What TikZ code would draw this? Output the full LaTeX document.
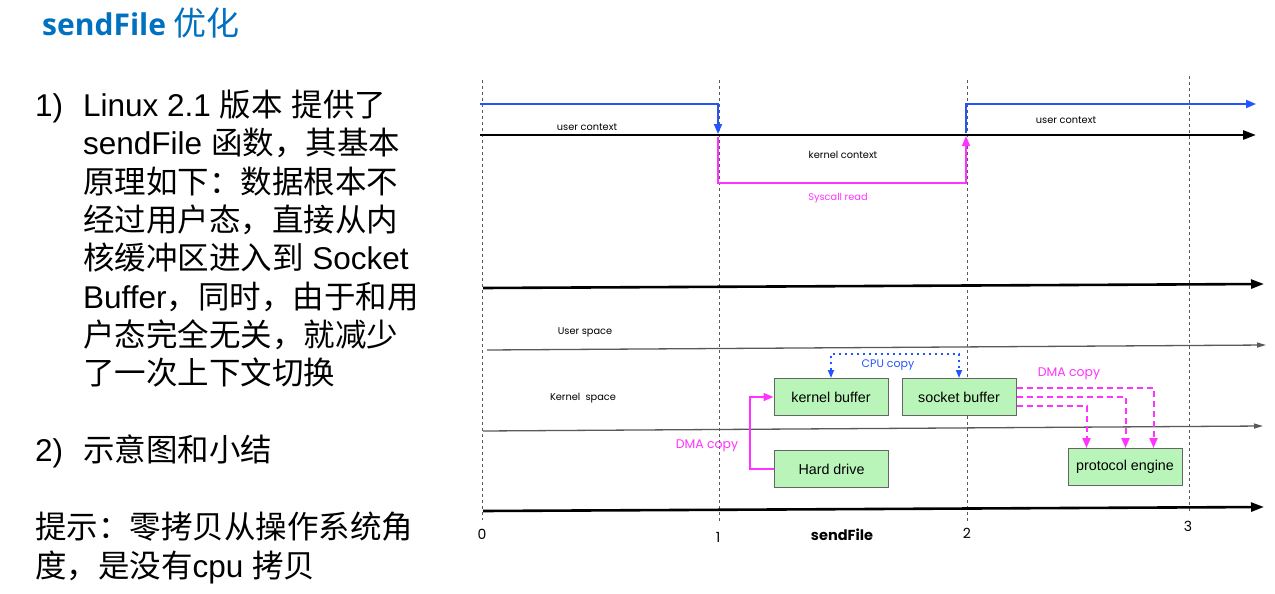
\documentclass[tikz,border=0pt]{standalone}
\usepackage{fontspec}
\setmainfont{Liberation Sans}
\newfontfamily\cjk{Noto Sans CJK SC}
\newfontfamily\geo{Poppins}
\newfontfamily\ttl{Open Sans}
\usetikzlibrary{arrows.meta}
\definecolor{ttlblue}{HTML}{0070C0}
\definecolor{flowblue}{HTML}{2255FF}
\definecolor{mag}{HTML}{FF33FF}
\definecolor{boxgreen}{HTML}{B9F5B9}
\begin{document}
\begin{tikzpicture}[x=1pt,y=-1pt,
  bodytext/.style={anchor=base west, inner sep=0pt, font=\fontsize{31.5}{36}\selectfont},
  small/.style={inner sep=0pt, font=\geo\fontsize{9.8}{11}\selectfont},
  num/.style={inner sep=0pt, font=\geo\fontsize{14}{16}\selectfont},
  copylbl/.style={inner sep=0pt, font=\geo\fontsize{12.5}{14}\selectfont},
  vline/.style={dash pattern=on 3pt off 3pt, line width=0.9pt, black!65},
  axis/.style={line width=2.6pt, -{Triangle[length=13pt,width=9pt]}},
  space/.style={line width=1.3pt, black!65, -{Triangle[length=9pt,width=5pt]}},
  flow/.style={line width=1.8pt, flowblue},
  sys/.style={line width=1.5pt, mag},
  cpu/.style={line width=1.6pt, flowblue, dash pattern=on 2pt off 4pt},
  dma/.style={line width=2pt, mag, dash pattern=on 6pt off 4pt},
  buf/.style={draw=black!60, line width=1pt, fill=boxgreen, minimum width=114pt,
    minimum height=37pt, inner sep=0pt, font=\fontsize{14.3}{16}\selectfont},
  tip/.style={-{Triangle[length=10pt,width=8pt]}}
]
\useasboundingbox (0,0) rectangle (1275,594);

% heading
\node[anchor=base west, inner sep=0pt, text=ttlblue] (title) at (42,36)
  {\ttl\bfseries\fontsize{30}{34}\selectfont sendFile {\cjk\mdseries\fontsize{33}{36}\selectfont 优化}};

% explanation on the left
\node[bodytext] (n1) at (35,116) {1)};
\node[bodytext] (l1) at (83,116) {Linux 2.1 {\cjk 版本} {\cjk 提供了}};
\node[bodytext] (l2) at (83,154) {sendFile {\cjk 函数，其基本}};
\node[bodytext] (l3) at (83,193) {\cjk 原理如下：数据根本不};
\node[bodytext] (l4) at (83,231) {\cjk 经过用户态，直接从内};
\node[bodytext] (l5) at (83,269) {{\cjk 核缓冲区进入到} Socket};
\node[bodytext] (l6) at (83,308) {Buffer{\cjk ，同时，由于和用}};
\node[bodytext] (l7) at (83,346) {\cjk 户态完全无关，就减少};
\node[bodytext] (l8) at (83,384) {\cjk 了一次上下文切换};
\node[bodytext] (n2) at (35,461) {2)};
\node[bodytext] (l9) at (83,461) {\cjk 示意图和小结};
\node[bodytext] (l10) at (35,538) {\cjk 提示：零拷贝从操作系统角};
\node[bodytext] (l11) at (35,577) {{\cjk 度，是没有}cpu {\cjk 拷贝}};

% time marks
\draw[vline] (482,80) -- (482,520);
\draw[vline] (719,80) -- (719,522);
\draw[vline] (967,80) -- (967,522);
\draw[vline] (1189,76) -- (1189,514);

% timelines
\coordinate (c0) at (480,135);  \coordinate (c1) at (1256,135);
\coordinate (u0) at (483,288);  \coordinate (u1) at (1264,284);
\coordinate (s0) at (487,350);  \coordinate (s1) at (1266,345);
\coordinate (k0) at (483,431);  \coordinate (k1) at (1263,426);
\coordinate (b0) at (483,511);  \coordinate (b1) at (1264,507);
\draw[axis] (c0) -- (c1);
\draw[axis] (u0) -- (u1);
\draw[space] (s0) -- (s1);
\draw[space] (k0) -- (k1);
\draw[axis] (b0) -- (b1);

% context switches
\coordinate (f0) at (480,104);
\coordinate (f1) at (718,104);
\coordinate (f2) at (718,134);
\coordinate (f3) at (966,133);
\coordinate (f4) at (966,104);
\coordinate (f5) at (1256,104);
\draw[flow, tip] (f0) -- (f1) -- (f2);
\draw[flow, tip] (f3) -- (f4) -- (f5);
\coordinate (r0) at (718,137);
\coordinate (r1) at (966,136);
\draw[sys, tip] (r0) -- (718,183) -| (r1);

\node[small] (uc1) at (587,127) {user context};
\node[small] (uc2) at (1066,120) {user context};
\node[small] (kc) at (843,155) {kernel context};
\node[small, text=mag] (sr) at (838,198) {Syscall read};
\node[small] (us) at (585,332) {User space};
\node[small] (ks) at (583,398) {Kernel\ \ space};

% buffers and devices
\node[buf] (kb) at (831,397) {kernel buffer};
\node[buf] (sb) at (959,397) {socket buffer};
\node[buf] (hd) at (831.5,469) {Hard drive};
\node[buf] (pe) at (1125,467) {protocol engine};

% copies
\draw[cpu, {Triangle[length=8pt,width=6pt]}-{Triangle[length=8pt,width=6pt]}]
  (kb.north) -- ++(0,-24) -| (sb.north);
\node[copylbl, text=flowblue, font=\geo\fontsize{11}{12}\selectfont] (cpulbl) at (888,365) {CPU copy};

\draw[sys, tip] (hd.west) -- ++(-24,0) |- (kb.west);
\node[copylbl, text=mag] (dma1) at (707,446) {DMA copy};

\draw[dma, tip] ([yshift=9pt]sb.east) -| ([xshift=86pt]pe.north west);
\draw[dma, tip] (sb.east) -| ([xshift=58pt]pe.north west);
\draw[dma, tip] ([yshift=-9pt]sb.east) -| ([xshift=19pt]pe.north west);
\node[copylbl, text=mag] (dma2) at (1069,374) {DMA copy};

% axis labels
\node[num] (t0) at (482,534) {0};
\node[num] (t1) at (718,537) {1};
\node[num, font=\geo\bfseries\fontsize{14.5}{16}\selectfont] (sf) at (842,535) {sendFile};
\node[num] (t2) at (967,533) {2};
\node[num] (t3) at (1188,526) {3};
\end{tikzpicture}
\end{document}
